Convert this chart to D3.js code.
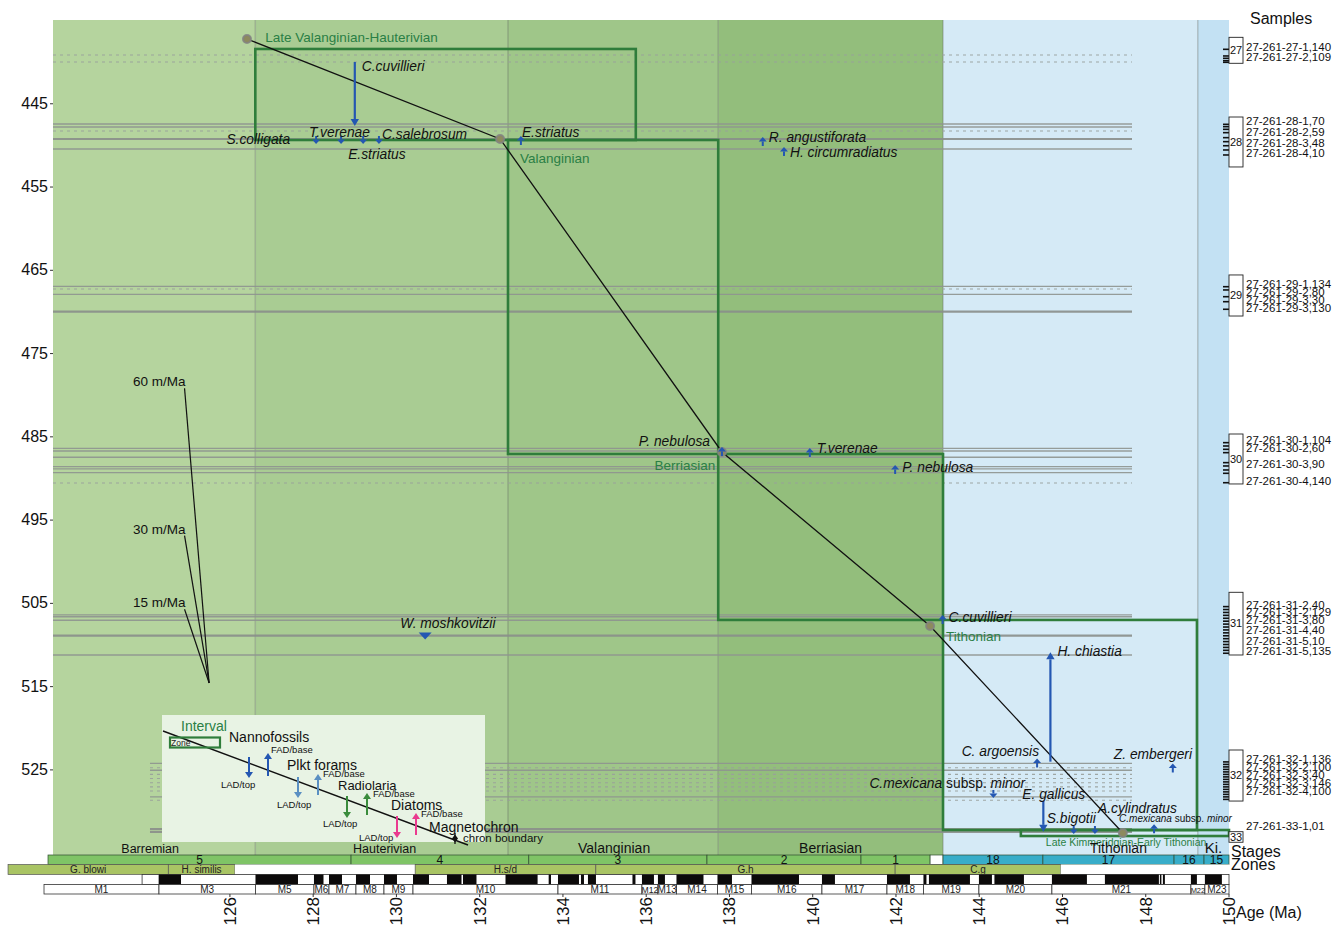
<!DOCTYPE html>
<html><head><meta charset="utf-8">
<script src="https://cdn.jsdelivr.net/npm/d3@7/dist/d3.min.js"></script>
<style>
body{margin:0;background:#fff;}
svg{display:block;font-family:"Liberation Sans",Arial,Helvetica,sans-serif;}
</style></head><body>
<svg id="chart" width="1343" height="925"></svg>
<script>
// ---- Stages (age, Ma) ----
const stageNames = ["Barremian","Hauterivian","Valanginian","Berriasian","Tithonian","Ki."];
const stageStart = [121.75,126.61,132.68,137.73,143.13,149.25];
const stageEnd   = [126.61,132.68,137.73,143.13,149.25,150];

// ---- Nannofossil zones ----
const zoneNames  = ["5","4","3","2","1","","18","17","16","15"];
const zoneStart  = [121.63,128.91,133.18,137.46,141.16,142.82,143.13,145.53,148.68,149.40];
const zoneEnd    = [128.91,133.18,137.46,141.16,142.82,143.13,145.53,148.68,149.40,150];
const zoneSystem = ["K","K","K","K","K","none","J","J","J","J"];

// ---- Planktonic foraminifera zones ----
const foramNames = ["G. blowi","H. similis","","H.s/d","G.h","C.g",""];
const foramStart = [120.67,124.52,126.12,130.45,134.79,141.98,145.96];
const foramEnd   = [124.52,126.12,130.45,134.79,141.98,145.96,150];

// ---- Magnetic polarity: normal intervals [from, to] ----
const polarityStart = 123.89;
const normalPolarity = [
  [124.296,124.825],[126.614,127.635],[128.019,128.248],[128.380,128.692],[129.028,129.365],
  [129.701,130.013],[130.398,130.782],[131.214,131.563],[131.599,131.923],[132.620,133.391],
  [133.657,133.713],[133.881,134.385],[134.433,134.505],[134.601,134.793],[135.670,135.742],
  [135.898,136.186],[136.282,136.450],[136.727,137.376],[137.712,138.060],[138.529,139.670],
  [140.222,140.534],[141.784,142.336],[142.660,142.732],[142.792,143.777],[143.993,144.305],
  [144.365,145.074],[145.746,146.587],[147.019,148.316],[148.340,148.376],[148.412,148.460],
  [149.085,149.229],[149.421,149.829]
];

// ---- Magnetochrons ----
const chronNames = ["M1","M3","M5","M6","M7","M8","M9","M10","M11","M12","M13","M14","M15","M16","M17","M18","M19","M20","M21","M22","M23"];
const chronStart = [121.534,124.296,126.614,128.019,128.380,129.028,129.701,130.398,133.881,135.898,136.282,136.727,137.712,138.529,140.222,141.784,142.660,143.993,145.746,149.085,149.421];
const chronEnd   = [124.296,126.614,128.019,128.380,129.028,129.701,130.398,133.881,135.898,136.282,136.727,137.712,138.529,140.222,141.784,142.660,143.993,145.746,149.085,149.421,150];

// ---- Axis ticks ----
const ageTicks   = [126,128,130,132,134,136,138,140,142,144,146,148,150];
const depthTicks = [445,455,465,475,485,495,505,515,525];

// ---- Age–depth model tie points ----
const modelAge   = [126.41,132.49,137.82,142.82,147.45];
const modelDepth = [437.28,449.29,486.88,507.77,532.64];

// ---- Reference sedimentation rates (m/Ma) ----
const rates = [60,30,15];
const rateOriginAge = 125.50, rateOriginDepth = 514.62, rateSpan = 0.59;

// ---- Interval zones ----
const intervalNames = ["Late Valanginian-Hauterivian","Valanginian","Berriasian","Tithonian","Late Kimmeridgian-Early Tithonian"];
const intervalAgeFrom   = [126.61,132.68,137.73,143.13,145.00];
const intervalAgeTo     = [135.75,137.73,143.13,149.23,150.00];
const intervalDepthTop  = [438.48,449.41,487.12,507.05,532.28];
const intervalDepthBase = [449.41,487.12,507.05,532.28,533.00];

// ---- Nannofossil / foram datums ----
const eventTaxa  = ["C.cuvillieri","S.colligata","T.verenae","E.striatus","C.salebrosum","E.striatus",
  "R. angustiforata","H. circumradiatus","P. nebulosa","T.verenae","P. nebulosa","W. moshkovitzii",
  "C.cuvillieri","H. chiastia","C. argoensis","Z. embergeri","C.mexicana subsp. minor","E. gallicus",
  "S.bigotii","A.cylindratus","C.mexicana subsp. minor"];
const eventAge   = [129.00,128.07,128.67,129.20,129.58,132.99,138.80,139.31,137.82,139.93,141.98,130.69,
  143.12,145.71,145.39,148.65,144.34,145.54,146.27,146.78,148.20];
const eventDepth = [447.73,449.53,449.53,449.53,449.53,449.53,449.65,450.85,486.88,487.00,489.04,508.98,
  507.05,510.94,524.29,524.89,528.07,532.50,532.40,532.40,532.19];
const eventFrom  = [440.04,null,null,null,null,null,null,null,null,null,null,null,
  null,524.07,null,null,null,528.75,null,null,null];
const eventType  = ["LAD","LAD","LAD","LAD","LAD","FAD","FAD","FAD","FAD","FAD","FAD","LAD",
  "FAD","FAD","FAD","FAD","LAD","LAD","LAD","LAD","FAD"];

// ---- Core samples ----
const coreIds   = ["27","28","29","30","31","32","33"];
const coreTop   = [437.08,446.65,465.62,484.72,503.73,522.67,532.48];
const coreBase  = [440.20,452.65,470.55,490.72,511.26,528.80,533.75];
const sampleTicks = [
  438.52,439.32,439.60,439.89,440.08,
  447.53,447.81,448.13,448.53,449.13,449.61,450.10,450.61,451.21,
  467.03,467.42,468.23,468.83,469.74,
  485.76,486.16,486.56,486.96,488.16,488.56,489.04,489.44,490.57,
  505.45,505.80,506.15,506.50,506.85,507.20,507.55,507.90,508.25,508.60,508.95,509.30,509.65,510.00,510.35,510.70,511.05,
  524.10,524.40,524.70,525.00,525.30,525.60,525.90,526.20,526.50,526.80,527.10,527.40,527.70,528.00,528.30,528.60
];
const sampleIds = ["27-261-27-1,140","27-261-27-2,109","27-261-28-1,70","27-261-28-2,59","27-261-28-3,48","27-261-28-4,10",
  "27-261-29-1,134","27-261-29-2,80","27-261-29-3,30","27-261-29-3,130",
  "27-261-30-1,104","27-261-30-2,60","27-261-30-3,90","27-261-30-4,140",
  "27-261-31-2,40","27-261-31-2,129","27-261-31-3,80","27-261-31-4,40","27-261-31-5,10","27-261-31-5,135",
  "27-261-32-1,136","27-261-32-2,100","27-261-32-3,40","27-261-32-3,146","27-261-32-4,100","27-261-33-1,01"];
const sampleLabelDepth = [438.24,439.44,447.13,448.45,449.77,450.97,
  466.70,467.66,468.63,469.59,
  485.44,486.40,488.32,490.36,
  505.25,506.08,507.05,508.25,509.57,510.78,
  523.75,524.71,525.67,526.63,527.59,531.79];

// Sample levels traced across the plot
const levelDepth = [439.20,440.04, 447.49,447.85,448.33,449.29,450.49, 466.99,467.30,467.94,470.03,
  486.44,486.76,487.51,488.64,488.92,489.36,490.60, 506.45,506.67,507.09,508.94,511.26,
  524.27,524.80,525.10,525.60,526.10,526.60,527.10,527.60,528.30,528.70, 532.16,532.50];
const levelKind = ["section","section","sample","sample","section","core","sample","sample","section","sample","core",
  "sample","sample","sample","sample","sample","sample","section","sample","sample","sample","core","sample",
  "sample","section","sample","section","section","section","section","section","sample","section","core","core"];

// ================= drawing =================
const svg = d3.select("#chart");
const x = d3.scaleLinear().domain([121.75,150]).range([53,1229]);
const y = d3.scaleLinear().domain([435,535.28]).range([20,855]);
const [yTop, yBot] = y.range();
const BLUE = "#2457b2", GREEN_BOX = "#2f7d3b", GREEN_TXT = "#2a7f45";

// stage backgrounds
const stageFill = ["#b5d49e","#a9cc93","#9fc689","#93be7c","#d5eaf6","#c3e1f3"];
svg.append("g").selectAll("rect").data(stageNames).join("rect")
  .attr("x",(d,i)=>x(stageStart[i])).attr("width",(d,i)=>x(stageEnd[i])-x(stageStart[i]))
  .attr("y",yTop).attr("height",yBot-yTop).attr("fill",(d,i)=>stageFill[i]);

// faint stage boundaries
svg.append("g").selectAll("line").data(stageStart.slice(1)).join("line")
  .attr("x1",d=>x(d)).attr("x2",d=>x(d)).attr("y1",yTop).attr("y2",yBot)
  .attr("stroke","rgba(100,110,100,0.35)").attr("stroke-width",1.5);

// sample level lines
const levelStyle = {
  sample:  {w:1.3, dash:null, c:"#8f9490"},
  section: {w:1.1, dash:"3,4", c:"#9aa09c"},
  core:    {w:2.2, dash:null, c:"#8a8f8b"}
};
svg.append("g").selectAll("line").data(levelDepth).join("line")
  .attr("x1",d=> d>520 ? x(124.08) : x(121.75)).attr("x2",x(147.67))
  .attr("y1",d=>y(d)).attr("y2",d=>y(d))
  .attr("stroke",(d,i)=>levelStyle[levelKind[i]].c)
  .attr("stroke-width",(d,i)=>levelStyle[levelKind[i]].w)
  .attr("stroke-dasharray",(d,i)=>levelStyle[levelKind[i]].dash)
  .attr("opacity",0.9);

// interval zone boxes
const gInt = svg.append("g");
gInt.selectAll("rect").data(intervalNames).join("rect")
  .attr("x",(d,i)=>x(intervalAgeFrom[i])).attr("y",(d,i)=>y(intervalDepthTop[i]))
  .attr("width",(d,i)=>x(intervalAgeTo[i])-x(intervalAgeFrom[i]))
  .attr("height",(d,i)=>y(intervalDepthBase[i])-y(intervalDepthTop[i]))
  .attr("fill","none").attr("stroke",GREEN_BOX).attr("stroke-width",2.6);
const intLabel = [ {dx:10,dy:-7,a:"start",fs:13.5}, {dx:12,dy:23,a:"start",fs:13.5}, {dx:-3,dy:16,a:"end",fs:13.5},
  {dx:3,dy:21,a:"start",fs:13.5}, {dx:25,dy:16,a:"start",fs:10.5} ];
gInt.selectAll("text").data(intervalNames).join("text")
  .attr("x",(d,i)=>x(intervalAgeFrom[i])+intLabel[i].dx)
  .attr("y",(d,i)=>y(intervalDepthTop[i])+intLabel[i].dy)
  .attr("text-anchor",(d,i)=>intLabel[i].a).attr("font-size",(d,i)=>intLabel[i].fs)
  .attr("fill",GREEN_TXT).text(d=>d);

// sedimentation-rate reference lines
const gRate = svg.append("g");
rates.forEach(r=>{
  const a0 = rateOriginAge - rateSpan, d0 = rateOriginDepth - r*rateSpan;
  gRate.append("line").attr("x1",x(a0)).attr("y1",y(d0)).attr("x2",x(rateOriginAge)).attr("y2",y(rateOriginDepth))
    .attr("stroke","#111").attr("stroke-width",1.2);
  gRate.append("text").attr("x",x(a0)+1).attr("y",y(d0)-2).attr("text-anchor","end")
    .attr("font-size",13.5).attr("fill","#111").text(r+" m/Ma");
});

// age–depth model
const pts = modelAge.map((a,i)=>[a,modelDepth[i]]);
svg.append("path").datum(pts)
  .attr("d",d3.line().x(d=>x(d[0])).y(d=>y(d[1])))
  .attr("fill","none").attr("stroke","#111").attr("stroke-width",1.3);
svg.append("g").selectAll("circle").data(pts).join("circle")
  .attr("cx",d=>x(d[0])).attr("cy",d=>y(d[1])).attr("r",4)
  .attr("fill","#8d8a5e").attr("stroke","rgba(130,130,130,0.85)").attr("stroke-width",2);

// arrow helper
function drawArrow(g, cx, yHead, yTail, color, headLen=6, headHalf=4.2, w=2){
  const dir = yHead < yTail ? -1 : 1;       // -1: pointing up
  const yBase = yHead - dir*headLen;
  g.append("line").attr("x1",cx).attr("x2",cx).attr("y1",yTail).attr("y2",yBase)
    .attr("stroke",color).attr("stroke-width",w);
  g.append("path").attr("d",`M${cx-headHalf},${yBase}L${cx+headHalf},${yBase}L${cx},${yHead}Z`).attr("fill",color);
}

// datums
const gEv = svg.append("g");
const evLabel = {
  0:[7,-55,"start"],1:[-26,3,"end"],2:[-32,-4,"start"],3:[-15,18,"start"],4:[3,-2,"start"],5:[1,-4,"start"],
  6:[6,0,"start"],7:[6,5,"start"],8:[-12,-6,"end"],9:[7,0,"start"],10:[7,2,"start"],11:[-25,-8,"start"],
  12:[6,2,"start"],13:[7,4,"start"],14:[2,-7.5,"end"],15:[-59,-9,"start"],16:[-124,-7,"start"],17:[-21,-33,"start"],
  18:[-27,-8,"start"],19:[3,-18,"start"],20:[-35,-7,"start"]
};
eventTaxa.forEach((t,i)=>{
  const cx = x(eventAge[i]), yc = y(eventDepth[i]);
  if (eventFrom[i] != null) {
    drawArrow(gEv, cx, yc, y(eventFrom[i]), BLUE, 7, 4.2, 2.2);
  } else if (i === 11) {
    gEv.append("path").attr("d",`M${cx-6.5},${yc-3.5}L${cx+6.5},${yc-3.5}L${cx},${yc+3.5}Z`).attr("fill",BLUE);
  } else if (eventType[i] === "FAD") {
    drawArrow(gEv, cx, yc-5, yc+4, BLUE, 4.5, 4, 2);
  } else {
    drawArrow(gEv, cx, yc+3, yc-5, BLUE, 4.5, 4, 2);
  }
  const [dx,dy,anc] = evLabel[i];
  const tx = gEv.append("text").attr("x",cx+dx).attr("y",yc+dy).attr("text-anchor",anc)
    .attr("font-size", i===20 ? 10 : 13.8).attr("fill","#111");
  if (t.includes(" subsp. ")) {
    const [genus, rest] = t.split(" subsp. ");
    tx.append("tspan").attr("font-style","italic").text(genus);
    tx.append("tspan").text(" subsp. ");
    tx.append("tspan").attr("font-style","italic").text(rest);
  } else {
    tx.attr("font-style","italic").text(t);
  }
});

// stage names at the base of the plot
const stageFs = [12.5,12.5,14,14,14,15];
const stageNudge = [-4,3,1,0,48,0];
svg.append("g").selectAll("text").data(stageNames).join("text")
  .attr("x",(d,i)=>(x(stageStart[i])+x(stageEnd[i]))/2+stageNudge[i]).attr("y",853)
  .attr("text-anchor","middle").attr("font-size",(d,i)=>stageFs[i]).attr("fill","#111").text(d=>d);

// legend
const gL = svg.append("g");
gL.append("rect").attr("x",162).attr("y",715).attr("width",323).attr("height",127).attr("fill","#e8f3e4");
gL.append("line").attr("x1",163).attr("y1",731).attr("x2",468).attr("y2",845).attr("stroke","#111").attr("stroke-width",1.4);
gL.append("text").attr("x",181).attr("y",731).attr("font-size",14).attr("fill",GREEN_TXT).text("Interval");
gL.append("rect").attr("x",170).attr("y",737.5).attr("width",50).attr("height",10).attr("fill","none").attr("stroke",GREEN_BOX).attr("stroke-width",2.2);
gL.append("text").attr("x",171).attr("y",746).attr("font-size",8.5).attr("fill","#222").text("Zone");
const legendGroups = [
  {name:"Nannofossils", c:"#2457b2", tx:229, ty:742, fs:14, lad:[249,757,778], fad:[268,776,753], ladT:[221,788], fadT:[271,753]},
  {name:"Plkt forams",  c:"#5a8fc2", tx:287, ty:770, fs:14, lad:[298,777,798], fad:[318,795,774], ladT:[277,808], fadT:[323,777]},
  {name:"Radiolaria",   c:"#3a8c3c", tx:338, ty:790, fs:13, lad:[347,796,818], fad:[367,815,793], ladT:[323,827], fadT:[373,797]},
  {name:"Diatoms",      c:"#ea3a8f", tx:391, ty:810, fs:14, lad:[397,816,838], fad:[416,835,813], ladT:[359,841], fadT:[421,817]}
];
legendGroups.forEach(gr=>{
  gL.append("text").attr("x",gr.tx).attr("y",gr.ty).attr("font-size",gr.fs).attr("fill","#111").text(gr.name);
  drawArrow(gL, gr.lad[0], gr.lad[2], gr.lad[1], gr.c, 6, 4, 2);
  drawArrow(gL, gr.fad[0], gr.fad[2], gr.fad[1], gr.c, 6, 4, 2);
  gL.append("text").attr("x",gr.ladT[0]).attr("y",gr.ladT[1]).attr("font-size",9.5).attr("fill","#111").text("LAD/top");
  gL.append("text").attr("x",gr.fadT[0]).attr("y",gr.fadT[1]).attr("font-size",9.5).attr("fill","#111").text("FAD/base");
});
gL.append("text").attr("x",429).attr("y",832).attr("font-size",14).attr("fill","#111").text("Magnetochron");
gL.append("line").attr("x1",455).attr("x2",455).attr("y1",833).attr("y2",844).attr("stroke","#111").attr("stroke-width",1.3);
gL.append("path").attr("d","M455,834.5L458,838.5L455,842.5L452,838.5Z").attr("fill","#111");
gL.append("text").attr("x",463).attr("y",842).attr("font-size",11.5).attr("fill","#111").text("chron boundary");

// nannofossil zone row
const zoneFill = {K:"#7fc466", J:"#38adc9", none:"#ffffff"};
const gZ = svg.append("g");
gZ.selectAll("rect").data(zoneNames).join("rect")
  .attr("x",(d,i)=>x(zoneStart[i])).attr("width",(d,i)=>x(zoneEnd[i])-x(zoneStart[i]))
  .attr("y",855).attr("height",9.5).attr("fill",(d,i)=>zoneFill[zoneSystem[i]])
  .attr("stroke","#2e4a2e").attr("stroke-width",0.7);
gZ.selectAll("text").data(zoneNames).join("text")
  .attr("x",(d,i)=>(x(zoneStart[i])+x(zoneEnd[i]))/2).attr("y",864)
  .attr("text-anchor","middle").attr("font-size",12).attr("fill","#111").text(d=>d);

// planktonic foram zone row
const gF = svg.append("g");
gF.selectAll("rect").data(foramNames).join("rect")
  .attr("x",(d,i)=>x(foramStart[i])).attr("width",(d,i)=>x(foramEnd[i])-x(foramStart[i]))
  .attr("y",864.5).attr("height",10).attr("fill",d=>d? "#a9c464" : "#ffffff")
  .attr("stroke",d=>d? "#555" : "none").attr("stroke-width",0.7);
gF.selectAll("text").data(foramNames).join("text")
  .attr("x",(d,i)=>(x(foramStart[i])+x(foramEnd[i]))/2).attr("y",873)
  .attr("text-anchor","middle").attr("font-size",10).attr("fill","#222").text(d=>d);

// polarity row
const gP = svg.append("g");
gP.append("rect").attr("x",x(polarityStart)).attr("width",x(150)-x(polarityStart)).attr("y",874.5).attr("height",10)
  .attr("fill","#fff").attr("stroke","#333").attr("stroke-width",0.8);
gP.append("line").attr("x1",x(124.296)).attr("x2",x(124.296)).attr("y1",874.5).attr("y2",884.5).attr("stroke","#333").attr("stroke-width",0.8);
gP.selectAll("rect.n").data(normalPolarity).join("rect").attr("class","n")
  .attr("x",d=>x(d[0])).attr("width",d=>Math.max(1,x(d[1])-x(d[0]))).attr("y",874.5).attr("height",10).attr("fill","#0c0a0a");

// chron row
const gC = svg.append("g");
gC.selectAll("rect").data(chronNames).join("rect")
  .attr("x",(d,i)=>x(chronStart[i])).attr("width",(d,i)=>x(chronEnd[i])-x(chronStart[i]))
  .attr("y",884.5).attr("height",9.5).attr("fill","#fff").attr("stroke","#333").attr("stroke-width",0.8);
gC.selectAll("text").data(chronNames).join("text")
  .attr("x",(d,i)=>(x(chronStart[i])+x(chronEnd[i]))/2).attr("y",892.5)
  .attr("text-anchor","middle")
  .attr("font-size",(d,i)=>Math.min(10,(x(chronEnd[i])-x(chronStart[i])-1)/(d.length*0.58)))
  .attr("fill","#222").text(d=>d);

// age axis
const gA = svg.append("g");
gA.selectAll("line").data(ageTicks).join("line")
  .attr("x1",d=>x(d)).attr("x2",d=>x(d)).attr("y1",894).attr("y2",897).attr("stroke","#333").attr("stroke-width",1);
gA.selectAll("text").data(ageTicks).join("text")
  .attr("transform",d=>`translate(${x(d)},897) rotate(-90)`)
  .attr("text-anchor","end").attr("dy","0.35em").attr("font-size",17).attr("fill","#111").text(d=>d);
svg.append("text").attr("x",1236).attr("y",918).attr("font-size",16).attr("fill","#111").text("Age (Ma)");
svg.append("text").attr("x",1231).attr("y",857).attr("font-size",16).attr("fill","#111").text("Stages");
svg.append("text").attr("x",1231).attr("y",870).attr("font-size",16).attr("fill","#111").text("Zones");

// depth axis
const yAxis = d3.axisLeft(y).tickValues(depthTicks).tickSize(3).tickPadding(2).tickFormat(d3.format("d"));
const gY = svg.append("g").attr("transform","translate(53,0)").call(yAxis);
gY.select(".domain").remove();
gY.selectAll("text").attr("font-size",16).attr("fill","#111").attr("font-family","Liberation Sans, Arial, sans-serif");
gY.selectAll("line").attr("stroke","#333");

// cores & samples
svg.append("text").attr("x",1250).attr("y",24).attr("font-size",16).attr("fill","#111").text("Samples");
const gS = svg.append("g");
gS.selectAll("line").data(sampleTicks).join("line")
  .attr("x1",1223).attr("x2",1229).attr("y1",d=>y(d)).attr("y2",d=>y(d)).attr("stroke","#111").attr("stroke-width",1.6);
gS.selectAll("rect").data(coreIds).join("rect")
  .attr("x",1229).attr("width",14).attr("y",(d,i)=>y(coreTop[i])).attr("height",(d,i)=>y(coreBase[i])-y(coreTop[i]))
  .attr("fill","#fff").attr("stroke","#222").attr("stroke-width",0.9);
gS.selectAll("text.core").data(coreIds).join("text").attr("class","core")
  .attr("x",1236).attr("y",(d,i)=>(y(coreTop[i])+y(coreBase[i]))/2).attr("dy","0.35em")
  .attr("text-anchor","middle").attr("font-size",11).attr("fill","#111").text(d=>d);
gS.selectAll("text.smp").data(sampleIds).join("text").attr("class","smp")
  .attr("x",1246).attr("y",(d,i)=>y(sampleLabelDepth[i])).attr("dy","0.35em")
  .attr("font-size",11.5).attr("fill","#111").text(d=>d);
</script></body></html>
